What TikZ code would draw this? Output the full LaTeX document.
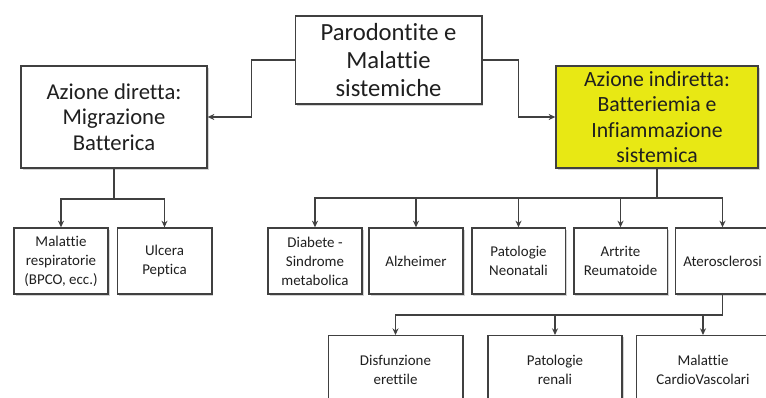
\documentclass[tikz,border=0pt]{standalone}
\usepackage{fontspec}
\setmainfont[Ligatures={NoCommon}]{Carlito}
\usepackage{tikz}
\usetikzlibrary{arrows.meta}
\usetikzlibrary{shadows}
\tikzset{>={Stealth[length=5pt,width=4.5pt]}}
\colorlet{linecol}{black!75}
\definecolor{boxyellow}{RGB}{232,232,20}
\tikzset{box/.style = {shape=rectangle,draw=linecol,line width=1pt,fill=white,align=center,text=black!88,
                       drop shadow={shadow xshift=1.2pt,shadow yshift=-1.2pt,opacity=0.35}}}
\tikzset{bigbox/.style = {box,font=\fontsize{18.5}{21}\selectfont}}
\tikzset{midbox/.style = {box,font=\fontsize{17}{19}\selectfont}}
\tikzset{smallbox/.style = {box,font=\fontsize{11.2}{14.2}\selectfont,minimum height=49.5pt}}
\tikzset{link/.style = {draw=linecol,line width=0.9pt}}

\begin{document}
\begin{tikzpicture}[x=0.75pt,y=-0.75pt]
                \useasboundingbox (0,0) rectangle (766,398);
                \clip (0,0) rectangle (766,398);

                \node[bigbox,minimum width=140pt,minimum height=66pt] (P) at (388.5,60) {Parodontite e\\Malattie\\sistemiche};
                \node[midbox,minimum width=139.5pt,minimum height=76.5pt] (D) at (114,117) {Azione diretta:\\Migrazione\\Batterica};
                \node[midbox,font=\fontsize{16.3}{19}\selectfont,fill=boxyellow,minimum width=151.5pt,minimum height=76.5pt] (I) at (657,117) {Azione indiretta:\\Batteriemia e\\Infiammazione\\sistemica};

                \node[smallbox,minimum width=70.5pt] (MR) at (61,261) {Malattie\\respiratorie\\(BPCO, ecc.)};
                \node[smallbox,minimum width=71pt] (UP) at (164.5,261) {Ulcera\\Peptica};

                \node[smallbox,minimum width=70.5pt] (DS) at (315,261) {Diabete -\\Sindrome\\metabolica};
                \node[smallbox,minimum width=70.5pt] (AL) at (416,261) {Alzheimer};
                \node[smallbox,minimum width=70pt] (PN) at (518.5,261) {Patologie\\Neonatali};
                \node[smallbox,minimum width=70pt] (AR) at (620.5,261) {Artrite\\Reumatoide};
                \node[smallbox,minimum width=71pt] (AT) at (722.5,261) {Aterosclerosi};

                \node[smallbox,minimum width=101pt,minimum height=52pt,anchor=north] (DE) at (395.5,335) {Disfunzione\\erettile};
                \node[smallbox,minimum width=100.5pt,minimum height=52pt,anchor=north] (PR) at (555,335) {Patologie\\renali};
                \node[smallbox,minimum width=100pt,minimum height=52pt,anchor=north] (MC) at (703,335) {Malattie\\CardioVascolari};

                \coordinate (Dbus) at (114,199);
                \coordinate (Ibus) at (657,198);
                \coordinate (Abus) at (722.5,315);

                \draw[link,->] (P.west) -- ++(-43,0) |- (D.east);
                \draw[link,->] (P.east) -- ++(36,0) |- (I.west);

                \draw[link] (D.south) -- (Dbus);
                \draw[link,->] (Dbus) -| (MR.north);
                \draw[link,->] (Dbus) -| (UP.north);

                \draw[link] (I.south) -- (Ibus);
                \draw[link,->] (Ibus) -| (DS.north);
                \draw[link,->] (Ibus) -| (AL.north);
                \draw[link,->] (Ibus) -| (PN.north);
                \draw[link,->] (Ibus) -| (AR.north);
                \draw[link,->] (Ibus) -| (AT.north);

                \draw[link] (AT.south) -- (Abus);
                \draw[link,->] (Abus) -| (DE.north);
                \draw[link,->] (Abus) -| (PR.north);
                \draw[link,->] (Abus) -| (MC.north);
            \end{tikzpicture}
\end{document}
